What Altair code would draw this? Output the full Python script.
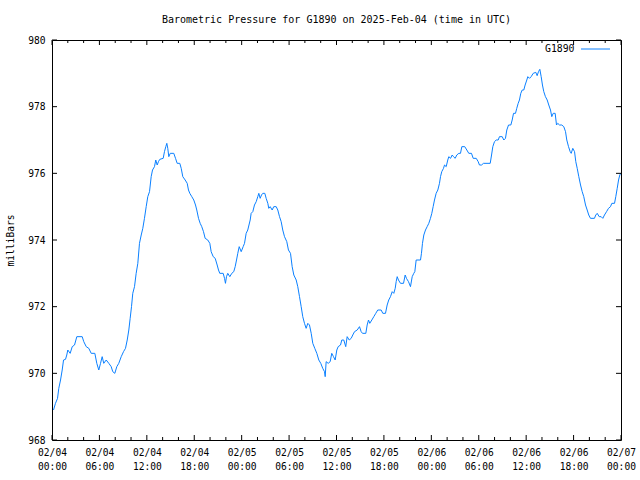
import altair as alt
import pandas as pd

# ---------------- data ----------------
hours = [0.19, 0.44, 0.70, 0.86, 1.08, 1.29, 1.46, 1.71, 1.87, 2.00, 2.30, 2.56, 2.85, 3.14,
         3.82, 4.02, 4.33, 4.66, 4.96, 5.42, 5.67, 5.92, 6.14, 6.35, 6.55, 6.86, 7.19, 7.49,
         7.69, 7.95, 8.20, 8.45, 8.76, 9.05, 9.30, 9.52, 9.72, 9.89, 10.06, 10.22, 10.44,
         10.65, 10.86, 11.07, 11.29, 11.49, 11.70, 11.92, 12.12, 12.34, 12.55, 12.72, 12.97,
         13.13, 13.31, 13.47, 13.64, 14.07, 14.23, 14.40, 14.53, 14.65, 14.78, 14.96, 15.41,
         15.63, 15.84, 16.17, 16.35, 16.55, 16.85, 17.11, 17.27, 17.44, 17.69, 17.94, 18.16,
         18.32, 18.54, 18.75, 18.95, 19.17, 19.38, 19.71, 19.97, 20.14, 20.40, 20.65, 20.90,
         21.07, 21.23, 21.66, 21.83, 21.95, 22.08, 22.24, 22.50, 22.75, 23.00, 23.18, 23.35,
         23.51, 23.69, 23.94, 24.19, 24.36, 24.57, 24.77, 25.08, 25.20, 25.41, 25.62, 25.84,
         26.04, 26.17, 26.34, 26.51, 26.67, 26.93, 27.10, 27.31, 27.43, 27.61, 27.86, 28.06,
         28.37, 28.57, 28.79, 29.00, 29.20, 29.42, 29.71, 29.92, 30.18, 30.39, 30.60, 30.90,
         31.10, 31.32, 31.53, 31.73, 31.95, 32.16, 32.37, 32.58, 32.80, 33.00, 33.25, 33.51,
         33.76, 34.01, 34.26, 34.48, 34.57, 34.69, 34.95, 35.20, 35.40, 35.62, 35.83, 36.04,
         36.21, 36.51, 36.67, 36.92, 37.17, 37.35, 37.61, 37.86, 38.06, 38.28, 38.62, 38.91,
         39.12, 39.29, 39.71, 39.88, 40.05, 40.21, 40.47, 40.72, 40.97, 41.22, 41.65, 41.86,
         42.20, 42.41, 42.61, 42.83, 43.05, 43.25, 43.43, 43.55, 43.68, 43.84, 44.10, 44.48,
         44.69, 44.85, 45.11, 45.36, 45.58, 45.78, 45.91, 46.08, 46.63, 46.75, 46.88, 47.05,
         47.26, 47.47, 47.68, 47.89, 48.06, 48.23, 48.40, 48.61, 48.82, 49.03, 49.16, 49.32,
         49.54, 49.67, 49.88, 50.08, 50.21, 50.43, 50.64, 50.80, 51.02, 51.22, 51.48, 51.69,
         51.86, 52.23, 52.49, 52.74, 53.08, 53.30, 53.68, 53.93, 54.09, 54.35, 54.60, 55.45,
         55.62, 55.78, 55.99, 56.21, 56.46, 56.62, 56.97, 57.17, 57.38, 57.55, 57.77, 58.06,
         58.23, 58.40, 58.65, 58.81, 58.99, 59.15, 59.32, 59.50, 59.70, 59.87, 60.08, 60.21,
         60.42, 60.63, 60.89, 61.22, 61.39, 61.56, 61.73, 61.90, 62.06, 62.23, 62.44, 62.66,
         62.86, 63.08, 63.24, 63.42, 63.67, 63.84, 64.00, 64.22, 64.51, 64.76, 64.98, 65.14,
         65.36, 65.57, 65.70, 65.90, 66.12, 66.28, 66.46, 66.66, 66.88, 67.09, 67.29, 67.51,
         67.72, 67.92, 68.14, 68.64, 68.81, 68.99, 69.24, 69.49, 69.70, 69.91, 70.17, 70.42,
         70.67, 70.84, 71.18, 71.34, 71.52, 71.69, 71.85, 71.98]

pressure = [968.9, 969.1, 969.25, 969.55, 969.8, 970.1, 970.4, 970.42, 970.55, 970.7, 970.6,
            970.8, 970.85, 971.1, 971.1, 970.95, 970.8, 970.75, 970.6, 970.6, 970.3, 970.1,
            970.3, 970.5, 970.3, 970.4, 970.3, 970.2, 970.05, 970.0, 970.2, 970.3, 970.5,
            970.65, 970.75, 971.0, 971.3, 971.65, 972.0, 972.4, 972.6, 973.0, 973.3, 973.9,
            974.15, 974.35, 974.65, 975.0, 975.3, 975.45, 975.9, 976.1, 976.2, 976.4, 976.25,
            976.35, 976.42, 976.45, 976.65, 976.8, 976.9, 976.75, 976.5, 976.6, 976.6, 976.45,
            976.3, 976.3, 976.15, 975.9, 975.8, 975.7, 975.5, 975.4, 975.3, 975.2, 975.05,
            974.9, 974.65, 974.5, 974.4, 974.25, 974.05, 974.0, 973.9, 973.65, 973.5, 973.45,
            973.25, 973.1, 973.0, 973.0, 972.85, 972.7, 972.9, 973.0, 972.9, 973.0, 973.05,
            973.2, 973.4, 973.6, 973.8, 973.65, 973.8, 973.9, 974.2, 974.3, 974.6, 974.8,
            974.85, 975.05, 975.15, 975.3, 975.4, 975.25, 975.35, 975.4, 975.4, 975.25, 975.1,
            974.95, 975.0, 974.9, 975.0, 975.0, 974.9, 974.7, 974.55, 974.3, 974.1, 973.95,
            973.7, 973.6, 973.2, 972.95, 972.8, 972.6, 972.3, 972.0, 971.7, 971.5, 971.35,
            971.5, 971.45, 971.2, 970.9, 970.75, 970.6, 970.4, 970.3, 970.15, 970.05, 969.9,
            970.35, 970.3, 970.35, 970.6, 970.5, 970.4, 970.7, 970.8, 970.85, 971.0, 971.0,
            970.8, 971.1, 971.0, 971.05, 971.15, 971.25, 971.3, 971.4, 971.25, 971.2, 971.2,
            971.45, 971.6, 971.5, 971.6, 971.7, 971.8, 971.9, 971.9, 971.8, 971.8, 972.05,
            972.2, 972.3, 972.45, 972.4, 972.55, 972.75, 972.9, 972.8, 972.7, 972.7, 972.95,
            972.85, 972.75, 972.6, 972.9, 973.0, 973.05, 973.4, 973.4, 973.6, 973.9, 974.15,
            974.3, 974.4, 974.5, 974.65, 974.8, 975.0, 975.2, 975.4, 975.5, 975.7, 975.9,
            976.05, 976.15, 976.25, 976.2, 976.4, 976.5, 976.45, 976.55, 976.5, 976.45,
            976.55, 976.6, 976.6, 976.8, 976.8, 976.7, 976.6, 976.6, 976.45, 976.45, 976.35,
            976.25, 976.25, 976.3, 976.3, 976.55, 976.8, 976.95, 977.0, 977.0, 977.1, 977.1,
            977.0, 977.05, 977.3, 977.45, 977.45, 977.6, 977.8, 977.8, 977.95, 978.1, 978.2,
            978.4, 978.5, 978.5, 978.65, 978.8, 978.9, 978.85, 978.9, 979.0, 979.03, 978.93,
            979.05, 979.12, 978.9, 978.65, 978.45, 978.3, 978.2, 978.05, 977.9, 977.7, 977.8,
            977.8, 977.45, 977.5, 977.45, 977.45, 977.4, 977.25, 977.0, 976.8, 976.65, 976.6,
            976.75, 976.65, 976.35, 976.15, 975.9, 975.65, 975.45, 975.3, 975.05, 974.9,
            974.75, 974.65, 974.65, 974.75, 974.8, 974.7, 974.7, 974.65, 974.75, 974.85,
            974.95, 975.0, 975.1, 975.1, 975.3, 975.55, 975.8, 975.95, 976.0]

title_text = "Barometric Pressure for G1890 on 2025-Feb-04 (time in UTC)"
series_name = "G1890"
y_title = "milliBars"
y_ticks = [968, 970, 972, 974, 976, 978, 980]
major_hours = list(range(0, 73, 6))
minor_hours = [h for h in range(0, 73, 2) if h % 6 != 0]

# ---------------- helpers ----------------
start = pd.Timestamp("2025-02-04T00:00:00Z")


def iso(h):
    return (start + pd.Timedelta(hours=h)).strftime("%Y-%m-%dT%H:%M:%SZ")


def dt(h):
    return alt.DateTime(year=2025, month=2, date=4 + h // 24, hours=h % 24, utc=True)


df = pd.DataFrame({"t": [iso(h) for h in hours], "p": pressure})
major_df = pd.DataFrame({"t": [iso(h) for h in major_hours]})
minor_df = pd.DataFrame({"t": [iso(h) for h in minor_hours]})
ytick_df = pd.DataFrame({"p": y_ticks})

W, H = 569, 400
FONT = "DejaVu Sans Mono"
LINE_COLOR = "#0a80ff"

x_scale = alt.Scale(type="utc", domain=[dt(0), dt(72)])
y_scale = alt.Scale(domain=[968, 980], nice=False, zero=False)

x_axis = alt.Axis(values=[dt(h) for h in major_hours], tickSize=0, domain=False,
                  grid=False, labelPadding=7, labelFlush=False, labelOverlap=False,
                  labelBound=False, labelAlign="center", labelBaseline="top",
                  labelLineHeight=14,
                  labelExpr="[utcFormat(datum.value, '%m/%d'), utcFormat(datum.value, '%H:%M')]",
                  title=None)
y_axis = alt.Axis(values=y_ticks, tickSize=0, domain=False, grid=False,
                  labelPadding=7, labelFlush=False, labelOverlap=False,
                  title=y_title, titleAngle=-90, titleX=-42, titleY=H / 2,
                  titleAlign="center", titleBaseline="middle",
                  titleFontWeight="normal")

X = alt.X("t:T", scale=x_scale, axis=x_axis)
Y = alt.Y("p:Q", scale=y_scale, axis=y_axis)

line = alt.Chart(df).mark_line(color=LINE_COLOR, strokeWidth=1, clip=True).encode(x=X, y=Y)

rule_kw = dict(color="black", strokeWidth=1)
major_bot = alt.Chart(major_df).mark_rule(**rule_kw).encode(
    x=X, y=alt.value(H), y2=alt.value(H - 5))
major_top = alt.Chart(major_df).mark_rule(**rule_kw).encode(
    x=X, y=alt.value(0), y2=alt.value(5))
minor_bot = alt.Chart(minor_df).mark_rule(**rule_kw).encode(
    x=X, y=alt.value(H), y2=alt.value(H - 3))
minor_top = alt.Chart(minor_df).mark_rule(**rule_kw).encode(
    x=X, y=alt.value(0), y2=alt.value(3))
y_left = alt.Chart(ytick_df).mark_rule(**rule_kw).encode(
    y=Y, x=alt.value(0), x2=alt.value(5))
y_right = alt.Chart(ytick_df).mark_rule(**rule_kw).encode(
    y=Y, x=alt.value(W), x2=alt.value(W - 5))

legend_text = alt.Chart(pd.DataFrame({"s": [series_name]})).mark_text(
    align="right", baseline="middle", fontSize=9.8, font=FONT, color="black"
).encode(text="s:N", x=alt.value(522.5), y=alt.value(9))
legend_line = alt.Chart(pd.DataFrame({"s": [series_name]})).mark_rule(
    color=LINE_COLOR, strokeWidth=1
).encode(x=alt.value(529), x2=alt.value(558), y=alt.value(9))

chart = alt.layer(
    line, major_bot, major_top, minor_bot, minor_top, y_left, y_right, legend_text, legend_line
).properties(
    width=W, height=H,
    title=alt.TitleParams(title_text, font=FONT, fontSize=10, fontWeight="normal",
                          anchor="middle", color="black", offset=10),
    autosize=alt.AutoSizeParams(type="none"),
    padding={"left": 52, "top": 40, "right": 19, "bottom": 40},
).configure(
    font=FONT, background="white"
).configure_view(
    stroke="black", strokeWidth=1
).configure_axis(
    labelFont=FONT, labelFontSize=9.6, labelColor="black",
    titleFont=FONT, titleFontSize=9.6, titleColor="black",
)

chart.save("out.html", embed_options={"renderer": "svg", "actions": False})
